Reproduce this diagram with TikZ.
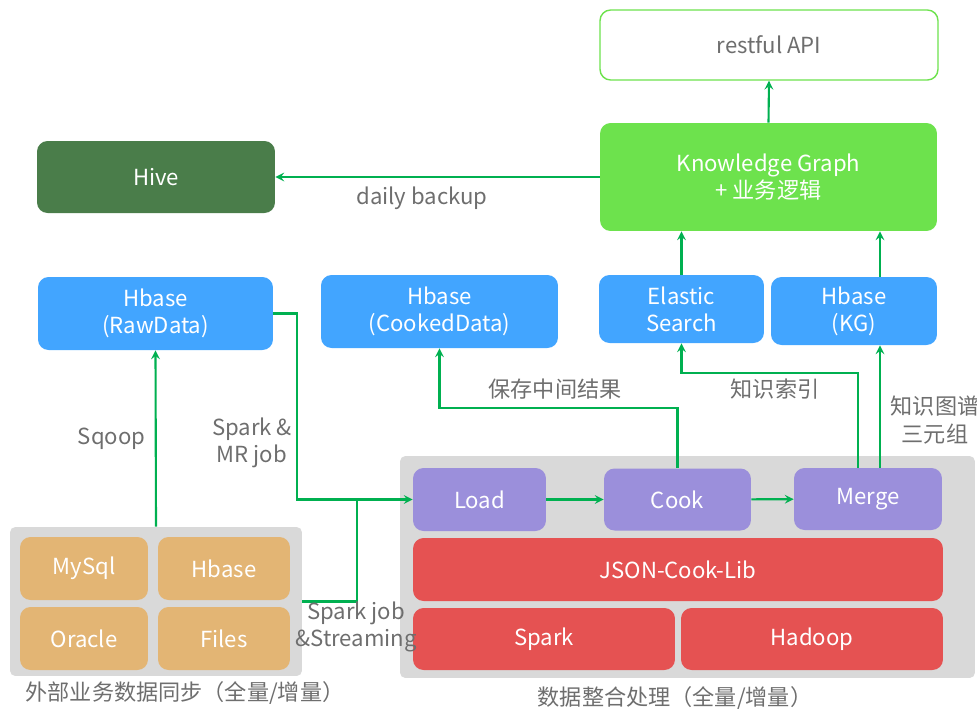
\documentclass[tikz,border=0pt]{standalone}
\usepackage{fontspec}
\setmainfont{Noto Sans CJK SC}
\usetikzlibrary{calc,positioning}
\definecolor{flowgreen}{HTML}{00B050}
\definecolor{kggreen}{HTML}{6DE24D}
\definecolor{hivegreen}{HTML}{4A7D4A}
\definecolor{storeblue}{HTML}{42A5FF}
\definecolor{steppurple}{HTML}{9B8FDB}
\definecolor{libred}{HTML}{E55252}
\definecolor{srcorange}{HTML}{E3B574}
\definecolor{panelgray}{HTML}{D9D9D9}
\definecolor{labelgray}{HTML}{6E6E6E}
\begin{document}
\begin{tikzpicture}[x=0.02cm, y=-0.02cm,
    blk/.style={rounded corners=6pt, text=white, align=center, font=\fontsize{12.6}{15.5}\selectfont, inner sep=0pt},
    panel/.style={fill=panelgray, rounded corners=3pt, inner sep=0pt},
    flow/.style={draw=flowgreen, line width=1.2pt, -stealth},
    lbl/.style={text=labelgray, align=center, font=\fontsize{12.6}{15.5}\selectfont}]

        \useasboundingbox (0,0) rectangle (977,711);

        % Oberste Ebene: API und Knowledge Graph
        \node[blk, draw=kggreen, fill=white, text=labelgray, line width=0.8pt, minimum width=6.76cm, minimum height=1.4cm] (api) at (769,45) {restful API};
        \node[blk, fill=kggreen, minimum width=6.74cm, minimum height=2.16cm] (kg) at (768.5,177) {Knowledge Graph\\+ 业务逻辑};
        \node[blk, fill=hivegreen, minimum width=4.76cm, minimum height=1.44cm] (hive) at (156,177) {Hive};

        % Speicher
        \node[blk, fill=storeblue, minimum width=4.7cm, minimum height=1.46cm] (raw) at (155.5,313.5) {Hbase\\(RawData)};
        \node[blk, fill=storeblue, minimum width=4.74cm, minimum height=1.46cm] (cooked) at (439.5,311.5) {Hbase\\(CookedData)};
        \node[blk, fill=storeblue, minimum width=3.3cm, minimum height=1.36cm] (es) at (681.5,309) {Elastic\\Search};
        \node[blk, fill=storeblue, minimum width=3.32cm, minimum height=1.36cm] (hkg) at (854,311) {Hbase\\(KG)};

        % Datenintegration
        \node[panel, minimum width=11.5cm, minimum height=4.44cm] (proc) at (687.5,567) {};
        \node[blk, fill=steppurple, minimum width=2.66cm, minimum height=1.26cm] (load) at (479.5,499.5) {Load};
        \node[blk, fill=steppurple, minimum width=2.94cm, minimum height=1.24cm] (cook) at (677.5,499.5) {Cook};
        \node[blk, fill=steppurple, minimum width=2.96cm, minimum height=1.24cm] (merge) at (868,499) {Merge};
        \node[blk, fill=libred, minimum width=10.6cm, minimum height=1.26cm] (lib) at (678,569.5) {JSON-Cook-Lib};
        \node[blk, fill=libred, minimum width=5.24cm, minimum height=1.24cm] (spark) at (544,639) {Spark};
        \node[blk, fill=libred, minimum width=5.24cm, minimum height=1.24cm] (hadoop) at (812,639) {Hadoop};

        % Externe Quellen
        \node[panel, minimum width=5.84cm, minimum height=2.98cm] (src) at (156,601.5) {};
        \node[blk, fill=srcorange, minimum width=2.56cm, minimum height=1.26cm] (mysql) at (84,568.5) {MySql};
        \node[blk, fill=srcorange, minimum width=2.64cm, minimum height=1.26cm] (hsrc) at (224,568.5) {Hbase};
        \node[blk, fill=srcorange, minimum width=2.56cm, minimum height=1.26cm] (oracle) at (84,638.5) {Oracle};
        \node[blk, fill=srcorange, minimum width=2.64cm, minimum height=1.26cm] (files) at (224,638.5) {Files};

        % Beschriftungen
        \node[lbl] (srccap) at (185,693) {外部业务数据同步（全量/增量）};
        \node[lbl] (proccap) at (675,698) {数据整合处理（全量/增量）};

        % Hilfspunkte
        \coordinate (junc) at ($(load.west)+(-56,0)$);
        \coordinate (m1) at ($(merge.north)+(-10,0)$);
        \coordinate (m2) at ($(merge.north)+(12,0)$);

        % Verbindungen
        \draw[flow] (kg.north) -- (api.south);
        \draw[flow] (kg.west) -- (hive.east);
        \draw[flow] (es.north) -- (es.north |- kg.south);
        \draw[flow] (m2 |- hkg.north) -- (m2 |- kg.south);
        \draw[flow] (src.north) -- node[lbl, left=2pt] (sqoop) {Sqoop} (raw.south);
        \draw[flow] (raw.east) -| ($(load.west)+(-116,0)$) -- (load.west);
        \draw[draw=flowgreen, line width=1.2pt] (src.east) -| (junc);
        \draw[flow] (load) -- (cook);
        \draw[flow] (cook) -- (merge);
        \draw[flow] (cook.north) |- ($(cooked.south)+(0,60)$) -- (cooked.south);
        \draw[flow] (m1) |- ($(es.south)+(0,30)$) -- (es.south);
        \draw[flow] (m2) -- (m2 |- hkg.south);

        % Texte an den Verbindungen
        \node[lbl] (backup) at (422,198) {daily backup};
        \node[lbl] (mrjob) at (252,443) {Spark \&\\MR job};
        \node[lbl] (stream) at (356,627) {Spark job\\\&Streaming};
        \node[lbl] (save) at (555,389) {保存中间结果};
        \node[lbl] (index) at (775,389) {知识索引};
        \node[lbl] (triple) at (935,420) {知识图谱\\三元组};

\end{tikzpicture}
\end{document}
